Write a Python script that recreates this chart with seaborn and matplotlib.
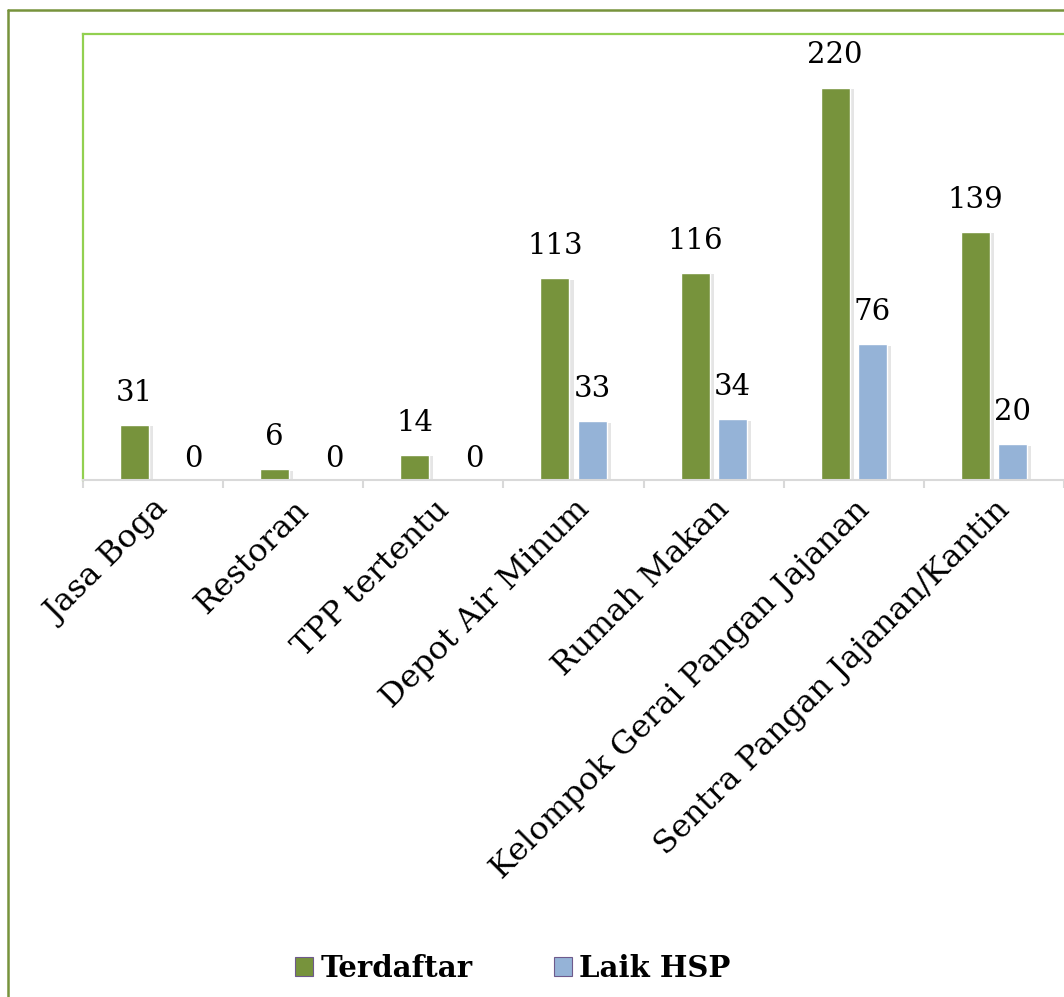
import pandas as pd
import matplotlib.pyplot as plt
import seaborn as sns
from matplotlib.lines import Line2D
from matplotlib.patches import Patch
import matplotlib.patheffects as pe

# ==========================================
# DATA
# ==========================================
kategori = ['Jasa Boga', 'Restoran', 'TPP tertentu', 'Depot Air Minum',
            'Rumah Makan', 'Kelompok Gerai Pangan Jajanan',
            'Sentra Pangan Jajanan/Kantin']
terdaftar = [31, 6, 14, 113, 116, 220, 139]
laik_hsp = [0, 0, 0, 33, 34, 76, 20]
seri = ['Terdaftar', 'Laik HSP']

df = pd.DataFrame({'Kategori': kategori, 'Terdaftar': terdaftar, 'Laik HSP': laik_hsp})
df_long = df.melt(id_vars='Kategori', value_vars=seri, var_name='Status', value_name='Jumlah')

hijau = '#77933C'
biru = '#95B3D7'
hijau_muda = '#92D050'

# ==========================================
# PLOT
# ==========================================
sns.set_style('white')
plt.rcParams['font.family'] = ['DejaVu Serif']
plt.rcParams['text.color'] = 'black'

fig = plt.figure(figsize=(10.64, 9.97), dpi=100)
ax = fig.add_axes([83 / 1064, 1 - 480 / 997, 1 - 83 / 1064, (480 - 34) / 997])

sns.barplot(data=df_long, x='Kategori', y='Jumlah', hue='Status', hue_order=seri,
            palette=[hijau, biru], width=0.53, gap=0.22, saturation=1,
            legend=False, ax=ax)

for bar in ax.patches:
    bar.set_path_effects([pe.SimplePatchShadow(offset=(3, -1), shadow_rgbFace='#999999', alpha=0.25),
                          pe.Normal()])

for container in ax.containers:
    labels = ax.bar_label(container, fmt='%d', padding=13, fontsize=21, color='black')
    # label nol digeser seperti di Excel
    for lab, bar in zip(labels, container):
        if bar.get_height() == 0:
            lab.xyann = (16, 5)

ax.set_ylim(0, 250)
ax.set_xlim(-0.5, 6.5)
ax.set_xlabel('')
ax.set_ylabel('')
ax.set_yticks([])

# label kategori di tengah, tanda tick di batas kategori
ax.set_xticks(range(len(kategori)))
ax.set_xticklabels(kategori, rotation=45, ha='right', va='top',
                   rotation_mode='anchor', fontsize=23, color='black')
ax.tick_params(axis='x', which='major', length=0, pad=10)
ax.set_xticks([i - 0.5 for i in range(len(kategori) + 1)], minor=True)
ax.tick_params(axis='x', which='minor', bottom=True, length=6, width=1.5, color='#D9D9D9')

for s in ['left', 'top']:
    ax.spines[s].set_color(hijau_muda)
    ax.spines[s].set_linewidth(1.6)
ax.spines['bottom'].set_color('#D9D9D9')
ax.spines['bottom'].set_linewidth(1.5)
ax.spines['right'].set_visible(False)

# bingkai luar
fig.add_artist(Line2D([8 / 1064, 8 / 1064], [0, 1 - 10 / 997], transform=fig.transFigure,
                      color=hijau, lw=1.8))
fig.add_artist(Line2D([8 / 1064, 1], [1 - 10 / 997, 1 - 10 / 997], transform=fig.transFigure,
                      color=hijau, lw=1.8))

handles = [Patch(facecolor=hijau, edgecolor='#6E5A8C', linewidth=0.8),
           Patch(facecolor=biru, edgecolor='#6E5A8C', linewidth=0.8)]
leg = fig.legend(handles, seri, loc='center', bbox_to_anchor=(0.482, 0.029), ncol=2,
                 frameon=False, prop={'size': 21, 'weight': 'bold'},
                 handlelength=0.62, handleheight=0.62, handletextpad=0.25, columnspacing=2.8)
for t in leg.get_texts():
    t.set_color('black')

fig.savefig('out.png', dpi=100)
